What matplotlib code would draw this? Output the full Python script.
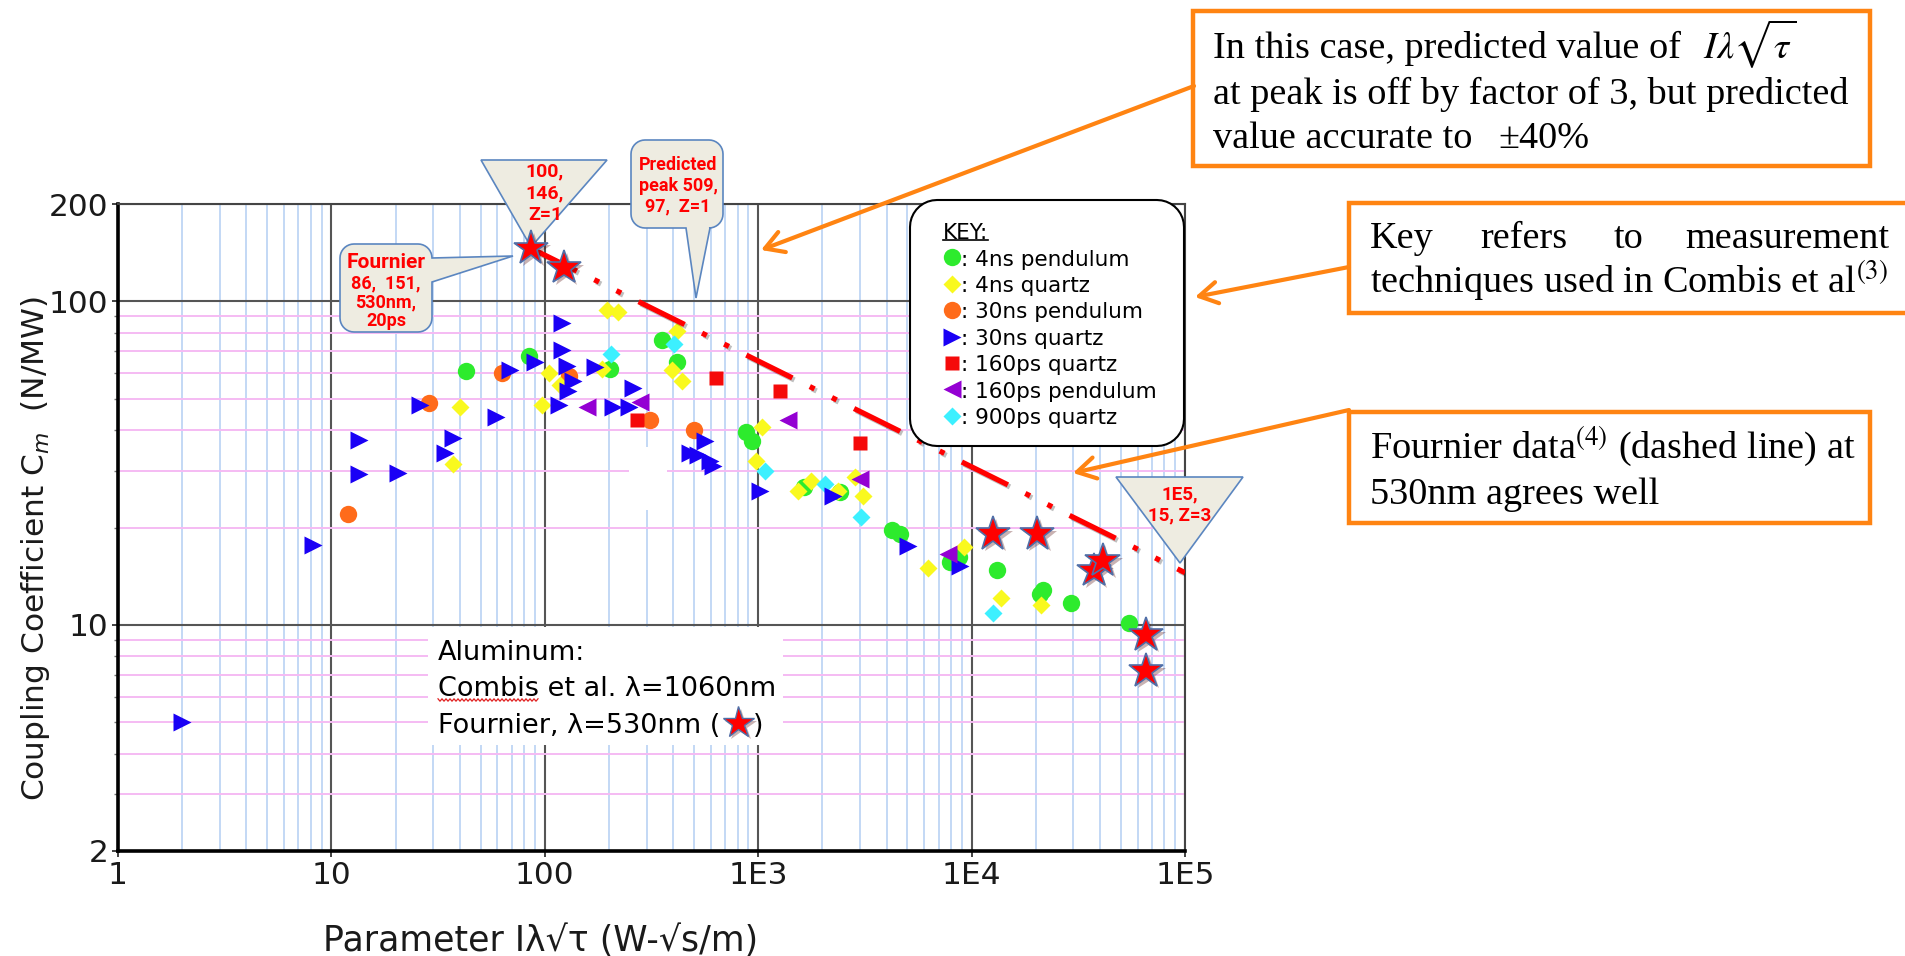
import numpy as np
import matplotlib
matplotlib.use("Agg")
import matplotlib.pyplot as plt
from matplotlib import patches, patheffects, transforms
from matplotlib.lines import Line2D
from matplotlib.ticker import NullFormatter

W, H = 1906, 956

# Combis et al. (lambda = 1060 nm), one pair of lists per measurement technique
pend4_x = [42.6, 84, 202, 353, 415, 877, 932, 1640, 2420, 4220, 4610, 7920, 8700,
           13100, 20900, 21700, 29100, 54800]
pend4_y = [61, 67.6, 62, 76, 65, 39.5, 37, 26.7, 25.8, 19.6, 19.1, 15.6, 16.2,
           14.8, 12.45, 12.8, 11.7, 10.1]

quartz4_x = [37, 40, 97, 105, 118, 185, 195, 221, 396, 415, 441, 977, 1040, 1540,
             1770, 2360, 2840, 3085, 6270, 9220, 13700, 21100]
quartz4_y = [31.5, 47, 48, 60, 55, 62, 94, 93, 61.5, 81, 56.6, 32, 41, 26, 27.8,
             26, 28.7, 25, 15, 17.4, 12.1, 11.5]

pend30_x = [12, 28.7, 63, 130, 311, 500]
pend30_y = [22, 48.5, 60, 59, 43, 40]

quartz30_x = [2, 8.2, 13.4, 13.5, 20.6, 26, 34, 37, 59, 69, 90, 116, 120, 120, 127,
              129, 136, 172, 209, 247, 258, 479, 524, 564, 594, 616, 1020, 2250,
              5050, 8830]
quartz30_y = [5, 17.7, 37.3, 29.2, 29.4, 48, 34, 37.7, 44, 61.5, 65, 48, 86, 70.6,
              63, 52.7, 56.6, 62.5, 47, 47, 54, 34, 33.5, 37, 32, 31, 26, 25, 17.5,
              15.2]

quartz160_x = [269, 634, 1265, 3000]
quartz160_y = [43, 58, 53, 36.6]

pend160_x = [157, 279, 1375, 3000, 7790]
pend160_y = [47, 49, 43, 28.3, 16.6]

quartz900_x = [204, 403, 1076, 2056, 3020, 12650]
quartz900_y = [69, 74, 30, 27.3, 21.5, 10.9]

# Fournier (lambda = 530 nm) and its fitted trend
fournier_x = [86, 123, 12560, 20300, 37500, 41100, 65600, 65600]
fournier_y = [146, 127, 19.1, 19.1, 14.7, 15.8, 9.3, 7.2]
fit_x = [86, 1e5]
fit_y = [146, 14.5]

x_ticks = [1, 10, 100, 1e3, 1e4, 1e5]
x_labels = ["1", "10", "100", "1E3", "1E4", "1E5"]
y_ticks = [2, 10, 100, 200]
y_labels = ["2", "10", "100", "200"]

# drawing order; (x, y, marker, size, colour, key label)
series = [
    (pend4_x, pend4_y, "o", 12.5, "#2DEB2D", ": 4ns pendulum"),
    (pend30_x, pend30_y, "o", 12.5, "#FF6B1A", ": 30ns pendulum"),
    (quartz4_x, quartz4_y, "D", 9, "#F9F91E", ": 4ns quartz"),
    (quartz900_x, quartz900_y, "D", 9, "#3CF0FF", ": 900ps quartz"),
    (quartz30_x, quartz30_y, ">", 12.5, "#1A00F5", ": 30ns quartz"),
    (quartz160_x, quartz160_y, "s", 9.5, "#F50A0A", ": 160ps quartz"),
    (pend160_x, pend160_y, "<", 12.5, "#9400D3", ": 160ps pendulum"),
]
key_order = [0, 2, 1, 4, 5, 6, 3]

plt.rcParams["font.family"] = ["DejaVu Sans"]
plt.rcParams["lines.scale_dashes"] = False

fig = plt.figure(figsize=(W / 100, H / 100), dpi=100)
# pixel coordinates of the picture, y growing downwards
PX = transforms.Affine2D().scale(1 / W, -1 / H).translate(0, 1) + fig.transFigure

ax = fig.add_axes([118 / W, 1 - 851 / H, (1185 - 118) / W, (851 - 204) / H])
ax.set_xscale("log")
ax.set_yscale("log")
ax.set_axisbelow(True)

ax.set_xticks(x_ticks, x_labels)
ax.set_yticks(y_ticks, y_labels)
ax.set_xticks([m * 10 ** d for d in range(5) for m in range(2, 10)], minor=True)
ax.set_yticks(list(range(3, 10)) + [m * 10 for m in range(2, 10)], minor=True)
ax.xaxis.set_minor_formatter(NullFormatter())
ax.yaxis.set_minor_formatter(NullFormatter())
ax.grid(True, which="major", color="#555555", lw=1.5)
ax.xaxis.grid(True, which="minor", color="#B3CEF3", lw=1.1)
ax.yaxis.grid(True, which="minor", color="#F5BBF3", lw=1.4)
ax.tick_params(which="major", direction="out", length=4, width=1.3, labelsize=22.5,
               pad=3, color="#333333", labelcolor="#1a1a1a")
ax.tick_params(axis="x", which="minor", length=0)
ax.tick_params(axis="y", which="minor", length=3, width=1, color="#777777")
for side in ("left", "bottom"):
    ax.spines[side].set_linewidth(2.6)
    ax.spines[side].set_color("black")
for side in ("top", "right"):
    ax.spines[side].set_linewidth(1.5)
    ax.spines[side].set_color("#444444")


def add(artist, z):
    artist.set_zorder(z)
    artist.set_clip_on(False)
    ax.add_artist(artist)
    return artist


# blank patches that hide the grid
add(patches.Rectangle((629, 447), 38, 63, transform=PX, fc="white", ec="none"), 0.9)
add(patches.Rectangle((428, 627), 355, 118, transform=PX, fc="white", ec="none"), 1)

for xs, ys, mk, ms, col, _ in series:
    ax.plot(xs, ys, ls="none", marker=mk, ms=ms, mfc=col, mec="none", zorder=3)

ax.plot(fit_x, fit_y, color="#FF0000", lw=3.8, dashes=[37, 14, 3.8, 14, 3.8, 14],
        dash_capstyle="butt", zorder=3.5,
        path_effects=[patheffects.SimpleLineShadow(offset=(1.5, -1.5), alpha=0.25),
                      patheffects.Normal()])
ax.plot(fournier_x, fournier_y, ls="none", marker="*", ms=26, mfc="#FF0000",
        mec="#4F6FA8", mew=1.2, zorder=5,
        path_effects=[patheffects.SimplePatchShadow(offset=(2, -2), alpha=0.3),
                      patheffects.Normal()])
ax.set_xlim(1, 1e5)
ax.set_ylim(2, 200)


def rounded_shape(x0, y0, x1, y1, r, side=None, a=0, b=0, tip=None, n=10):
    pts = []

    def arc(cx, cy, t0, t1):
        t = np.radians(np.linspace(t0, t1, n))
        pts.extend(zip(cx + r * np.cos(t), cy + r * np.sin(t)))

    arc(x0 + r, y0 + r, 180, 270)
    arc(x1 - r, y0 + r, 270, 360)
    if side == "right":
        pts.extend([(x1, a), tip, (x1, b)])
    arc(x1 - r, y1 - r, 0, 90)
    if side == "bottom":
        pts.extend([(b, y1), tip, (a, y1)])
    arc(x0 + r, y1 - r, 90, 180)
    return pts


call_fc, call_ec = "#EEECE1", "#5B86C0"
call_font = dict(family=["Roboto", "DejaVu Sans"], weight="bold", color="#FF0000",
                 ha="center", va="center", transform=PX, clip_on=False, zorder=4.5)

add(patches.Polygon([(481, 160), (607, 160), (531, 247)], transform=PX, fc=call_fc,
                    ec=call_ec, lw=1.2), 4)
for txt, yy in (("100,", 171), ("146,", 193), ("Z=1", 215)):
    ax.text(545, yy, txt, size=14, **call_font)

add(patches.Polygon(rounded_shape(340, 244, 432, 332, 14, "right", 258, 282, (513, 256)),
                    transform=PX, fc=call_fc, ec=call_ec, lw=1.2), 4)
ax.text(386, 262, "Fournier", size=15, **call_font)
for txt, yy in (("86,  151,", 283), ("530nm,", 302), ("20ps", 321)):
    ax.text(386, yy, txt, size=13, **call_font)

add(patches.Polygon(rounded_shape(631, 140, 723, 228, 14, "bottom", 686, 710, (696, 298)),
                    transform=PX, fc=call_fc, ec=call_ec, lw=1.2), 4)
for txt, yy in (("Predicted", 165), ("peak 509,", 186), ("97,  Z=1", 206)):
    ax.text(678, yy, txt, size=13, **call_font)

add(patches.Polygon([(1116, 477), (1243, 477), (1180, 563)], transform=PX, fc=call_fc,
                    ec=call_ec, lw=1.2), 4)
ax.text(1180, 494, "1E5,", size=13.5, **call_font)
ax.text(1180, 515, "15, Z=3", size=13.5, **call_font)

# KEY box
add(patches.Polygon(rounded_shape(910, 200, 1184, 446, 27), transform=PX, fc="white",
                    ec="black", lw=1.5), 4)
key_font = dict(size=15.5, va="center_baseline", transform=PX, clip_on=False, zorder=4.5)
key_title = ax.text(943, 231, "KEY:", **key_font)
for i, idx in enumerate(key_order):
    yy = 257.5 + i * 26.4
    _, _, mk, ms, col, label = series[idx]
    add(Line2D([952], [yy], transform=PX, ls="none", marker=mk, ms=ms, mfc=col,
               mec="none"), 4.6)
    ax.text(961, yy, label, **key_font)

# Aluminum note
note_font = dict(size=19.5, va="center_baseline", transform=PX, clip_on=False, zorder=2)
ax.text(438, 650, "Aluminum:", **note_font)
ax.text(438, 686, "Combis et al. λ=1060nm", **note_font)
four_open = ax.text(438, 723, "Fournier, λ=530nm (", **note_font)
combis_word = ax.text(438, 686, "Combis", alpha=0, **note_font)

# right-hand comment boxes and arrows
orange = "#FF8412"
for x0, y0, w, h in ((1193, 11, 677, 155), (1349, 203, 600, 110), (1349, 412, 521, 111)):
    fig.add_artist(patches.Rectangle((x0, y0), w, h, transform=PX, fc="white",
                                     ec=orange, lw=3.2, zorder=2))
for a, b in (((1194, 86), (761, 250)), ((1349, 267), (1195, 297)),
             ((1349, 410), (1073, 473))):
    fig.add_artist(patches.FancyArrowPatch(a, b, transform=PX, color=orange, lw=3,
                                           arrowstyle="->,head_length=0.6,head_width=0.35",
                                           mutation_scale=22, shrinkA=0, shrinkB=0,
                                           zorder=6))

serif = dict(family=["Liberation Serif", "DejaVu Serif"], size=27.5, va="baseline",
             transform=PX, math_fontfamily="stix", zorder=3)
line1 = fig.text(1213, 58, "In this case, predicted value of", **serif)
fig.text(1213, 104, "at peak is off by factor of 3, but predicted", **serif)
fig.text(1213, 148, "value accurate to", **serif)
fig.text(1498, 148, "±40%", **serif)
fig.text(1370, 248, "Key", **serif)
fig.text(1480, 248, "refers", **serif)
fig.text(1614, 248, "to", **serif)
fig.text(1889, 248, "measurement", ha="right", **serif)
fig.text(1370, 293, r"techniques used in Combis et al$^{(3)}$", **serif)
fig.text(1370, 459, r"Fournier data$^{(4)}$ (dashed line) at", **serif)
fig.text(1370, 504, "530nm agrees well", **serif)

fig.text(541, 951, "Parameter Iλ√τ (W-√s/m)", size=25, ha="center", va="baseline",
         transform=PX, color="#1a1a1a")
fig.text(36, 548, "Coupling Coefficient C$_m$  (N/MW)", size=22.5, rotation=90,
         ha="center", va="center", transform=PX, color="#1a1a1a")

# place the items that follow measured text
fig.canvas.draw()
rend = fig.canvas.get_renderer()

bb = line1.get_window_extent(rend)
fig.text(bb.x1 + 22, 58, r"$I\lambda\sqrt{\tau}$", **serif)

bb = four_open.get_window_extent(rend)
star_x = bb.x1 + 18
add(Line2D([star_x], [723], transform=PX, ls="none", marker="*", ms=24, mfc="#FF0000",
           mec="#4F6FA8", mew=1.0,
           path_effects=[patheffects.SimplePatchShadow(offset=(2, -2), alpha=0.3),
                         patheffects.Normal()]), 2.5)
ax.text(star_x + 15, 723, ")", **note_font)

bb = combis_word.get_window_extent(rend)
wx = np.arange(bb.x0, bb.x1, 2.0)
wy = 700 + np.where(np.arange(len(wx)) % 2 == 0, -1.2, 1.2)
add(Line2D(wx, wy, transform=PX, color="#E02020", lw=0.9), 2.5)
combis_word.remove()

bb = key_title.get_window_extent(rend)
add(Line2D([bb.x0, bb.x1], [240, 240], transform=PX, color="black", lw=1.2), 4.6)

fig.savefig("out.png", dpi=100)
